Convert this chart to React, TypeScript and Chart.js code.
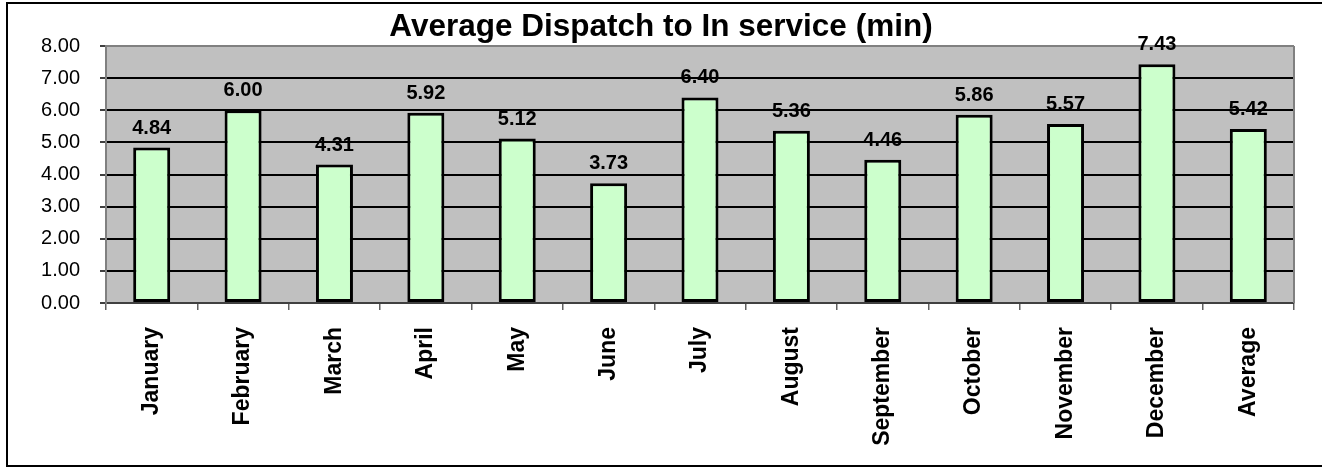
import React, { useEffect, useRef } from "react";
import { Chart, registerables } from "chart.js";

Chart.register(...registerables);

const TITLE = "Average Dispatch to In service (min)";
const CATEGORIES = [
  "January", "February", "March", "April", "May", "June", "July",
  "August", "September", "October", "November", "December", "Average",
];
const VALUES = [4.84, 6.0, 4.31, 5.92, 5.12, 3.73, 6.4, 5.36, 4.46, 5.86, 5.57, 7.43, 5.42];
const Y_MIN = 0;
const Y_MAX = 8;
const Y_STEP = 1;

const FONT = "'Liberation Sans', Arial, sans-serif";

const framePlugin = {
  id: "frame",
  beforeDraw(chart: any) {
    const { ctx, chartArea } = chart;
    ctx.save();
    ctx.fillStyle = "#ffffff";
    ctx.fillRect(0, 0, chart.width, chart.height);
    ctx.strokeStyle = "#000000";
    ctx.lineWidth = 2;
    ctx.strokeRect(7, 3, chart.width + 10, 463);
    ctx.fillStyle = "#c0c0c0";
    ctx.fillRect(chartArea.left, chartArea.top, chartArea.right - chartArea.left, chartArea.bottom - chartArea.top);
    ctx.restore();
  },
  afterDatasetsDraw(chart: any) {
    const { ctx, chartArea } = chart;
    ctx.save();
    // right plot border
    ctx.strokeStyle = "#808080";
    ctx.lineWidth = 2;
    ctx.beginPath();
    ctx.moveTo(chartArea.right, chartArea.top);
    ctx.lineTo(chartArea.right, chartArea.bottom);
    ctx.stroke();
    // value labels
    const meta = chart.getDatasetMeta(0);
    ctx.fillStyle = "#000000";
    ctx.font = `bold 20px ${FONT}`;
    ctx.textAlign = "center";
    ctx.textBaseline = "alphabetic";
    meta.data.forEach((bar: any, i: number) => {
      ctx.fillText(VALUES[i].toFixed(2), bar.x, bar.y - 14);
    });
    // title
    ctx.font = `bold 31.5px ${FONT}`;
    ctx.fillText(TITLE, 661, 36);
    ctx.restore();
  },
};

export default function App() {
  const ref = useRef<HTMLCanvasElement | null>(null);

  useEffect(() => {
    if (!ref.current) return;
    const chart = new Chart(ref.current, {
      type: "bar",
      data: {
        labels: CATEGORIES,
        datasets: [
          {
            data: VALUES,
            backgroundColor: "#ccffcc",
            borderColor: "#000000",
            borderWidth: 3,
            borderSkipped: false,
            categoryPercentage: 1,
            barPercentage: 0.405,
          },
        ],
      },
      options: {
        animation: false,
        responsive: false,
        devicePixelRatio: 1,
        layout: { padding: { top: 46, right: 28, left: 0, bottom: 0 } },
        plugins: {
          legend: { display: false },
          title: { display: false },
          tooltip: { enabled: false },
        },
        scales: {
          x: {
            offset: true,
            afterFit: (s: any) => {
              s.height = 166;
            },
            border: { display: true, color: "#404040", width: 2 },
            grid: {
              offset: true,
              drawOnChartArea: false,
              drawTicks: true,
              tickLength: 7,
              color: "#606060",
              lineWidth: 1.5,
            },
            ticks: {
              autoSkip: false,
              minRotation: 90,
              maxRotation: 90,
              padding: 17,
              color: "#000000",
              font: { family: FONT, size: 23, weight: "bold" },
            },
          },
          y: {
            min: Y_MIN,
            max: Y_MAX,
            afterFit: (s: any) => {
              s.width = 106;
            },
            border: { display: true, color: "#808080", width: 2 },
            grid: {
              color: (c: any) => (c.tick && c.tick.value === Y_MAX ? "#808080" : "#000000"),
              lineWidth: 2,
              tickLength: 6,
              tickColor: "#404040",
              drawTicks: true,
            },
            ticks: {
              stepSize: Y_STEP,
              padding: 20,
              color: "#000000",
              font: { family: FONT, size: 20 },
              callback: (v: any) => Number(v).toFixed(2),
            },
          },
        },
      },
      plugins: [framePlugin],
    });
    return () => chart.destroy();
  }, []);

  return (
    <div style={{ position: "absolute", left: 0, top: 0, width: 1322, height: 469 }}>
      <canvas ref={ref} width={1322} height={469} style={{ width: 1322, height: 469, display: "block" }} />
    </div>
  );
}
